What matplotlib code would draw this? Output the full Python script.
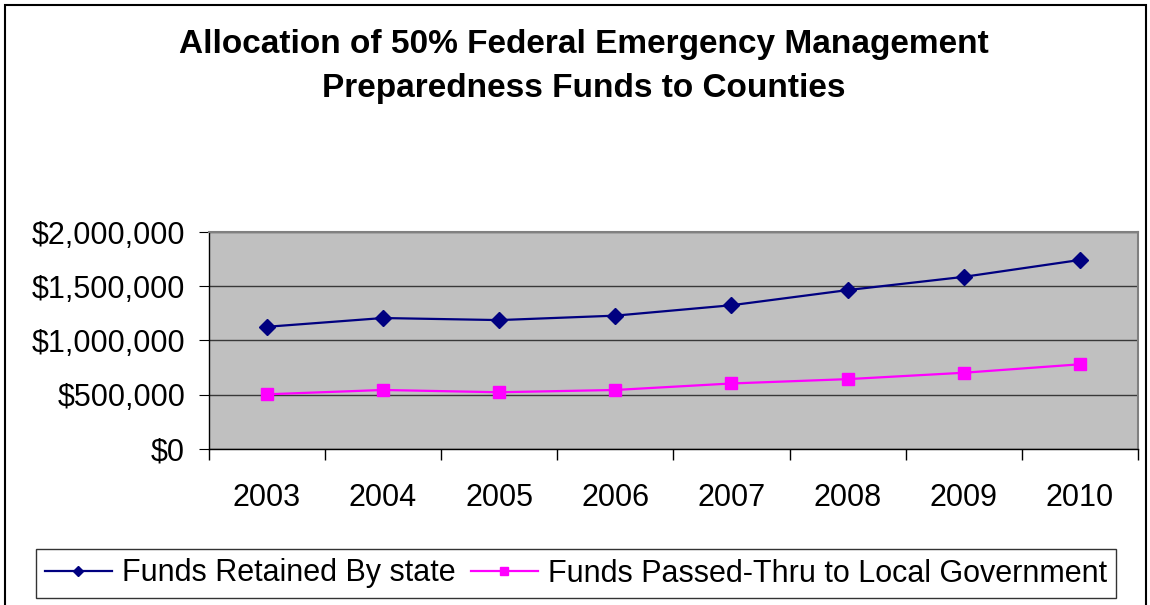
import matplotlib.pyplot as plt
from matplotlib.ticker import FuncFormatter, FixedLocator
from matplotlib.patches import Rectangle

plt.rcParams['font.family'] = ['Liberation Sans', 'DejaVu Sans']

# data
years = ['2003', '2004', '2005', '2006', '2007', '2008', '2009', '2010']
retained = [1125000, 1206000, 1187000, 1228000, 1324000, 1464000, 1586000, 1742000]
passed = [502000, 542000, 521000, 542000, 602000, 642000, 701000, 779000]
y_ticks = [0, 500000, 1000000, 1500000, 2000000]

fig = plt.figure(figsize=(11.5, 6.05), dpi=100)
ax = fig.add_axes([208.7 / 1150, 1 - 448.7 / 605, (1138 - 208.7) / 1150, (448.7 - 232) / 605])

x = list(range(len(years)))
ax.plot(x, retained, color='#000080', lw=1.6, marker='D', ms=8,
        label='Funds Retained By state', zorder=3)
ax.plot(x, passed, color='#FF00FF', lw=1.6, marker='s', ms=8.5,
        label='Funds Passed-Thru to Local Government', zorder=3)

ax.set_facecolor('#C0C0C0')
ax.set_xlim(-0.5, len(years) - 0.5)
ax.set_ylim(0, 2000000)
ax.set_yticks(y_ticks)
ax.yaxis.set_major_formatter(FuncFormatter(lambda v, p: '${:,.0f}'.format(v)))
ax.grid(axis='y', color='#383838', lw=1)
ax.set_axisbelow(True)

ax.set_xticks(x)
ax.set_xticklabels(years)
ax.xaxis.set_minor_locator(FixedLocator([i - 0.5 for i in range(len(years) + 1)]))
ax.tick_params(axis='x', which='major', length=0, pad=25, labelsize=22)
ax.tick_params(axis='x', which='minor', length=8, width=1, color='black')
ax.tick_params(axis='y', length=7, pad=10, labelsize=22)

for s in ['top', 'right']:
    ax.spines[s].set_color('#808080')
    ax.spines[s].set_linewidth(1.5)
for s in ['left', 'bottom']:
    ax.spines[s].set_color('black')
    ax.spines[s].set_linewidth(1)

fig.text(0.508, 1 - 45 / 605, 'Allocation of 50% Federal Emergency Management',
         ha='center', va='center', fontsize=24, fontweight='bold')
fig.text(0.508, 1 - 89 / 605, 'Preparedness Funds to Counties',
         ha='center', va='center', fontsize=24, fontweight='bold')

leg = fig.legend(loc='center', bbox_to_anchor=(576 / 1150, 1 - 573.5 / 605), ncol=2,
                 fontsize=22, frameon=True, fancybox=False, edgecolor='black',
                 handlelength=2.2, handletextpad=0.33, columnspacing=0.5,
                 borderpad=0.3, borderaxespad=0, markerscale=0.6)
leg.get_frame().set_linewidth(1)

fig.patches.append(Rectangle((5 / 1150, -0.05), 1141 / 1150, 1.05 - 5 / 605,
                             transform=fig.transFigure, fill=False,
                             edgecolor='black', lw=1.5))

fig.savefig('out.png', dpi=100)
